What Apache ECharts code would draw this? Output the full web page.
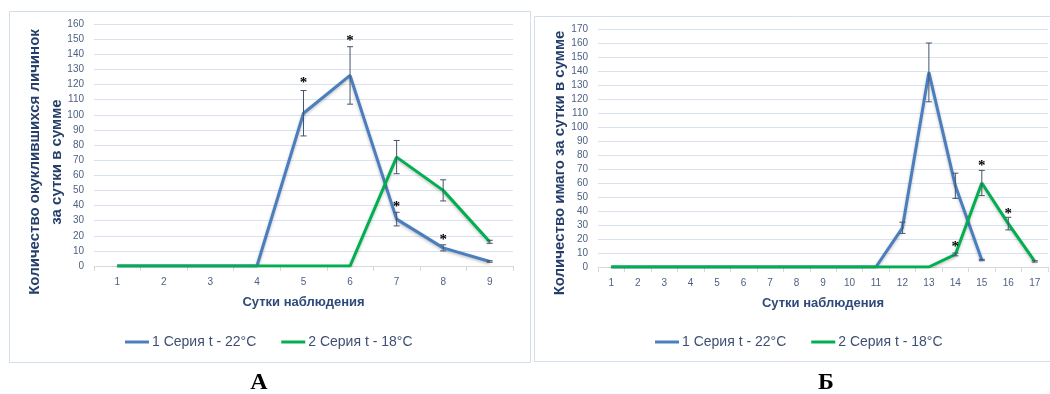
<!DOCTYPE html>
<html><head><meta charset="utf-8">
<script src="https://cdn.jsdelivr.net/npm/echarts@6/dist/echarts.min.js"></script>
<style>html,body{margin:0;padding:0;background:#fff}#c{width:1050px;height:394px}</style>
</head><body><div id="c"></div>
<script>
// ---- Data ----
const daysA = ['1','2','3','4','5','6','7','8','9'];
const seriesA1 = [0,0,0,0,101,126,31,12,3];
const seriesA2 = [0,0,0,0,0,0,72,50,16];
const errA1 = [null,null,null,null,15,19,4.5,2,0.5];
const errA2 = [null,null,null,null,null,null,11,7,1];
const starsADays = ['5','6','7','8'];
const starsAValues = [121,149,39,17];

const daysB = ['1','2','3','4','5','6','7','8','9','10','11','12','13','14','15','16','17'];
const seriesB1 = [0,0,0,0,0,0,0,0,0,0,0,28,139,58,5,null,null];
const seriesB2 = [0,0,0,0,0,0,0,0,0,0,0,0,0,9,60,31,4];
const errB1 = [null,null,null,null,null,null,null,null,null,null,null,4,21,9,0.5,null,null];
const errB2 = [null,null,null,null,null,null,null,null,null,null,null,null,null,1,9,4.5,0.5];
const starsBDays = ['14','15','16'];
const starsBValues = [14,72,38];

const yTicksA = {min:0, max:160, interval:10};
const yTicksB = {min:0, max:170, interval:10};

const name1 = '1 Серия t - 22°C';
const name2 = '2 Серия t - 18°C';
const yNameA = 'Количество окуклившихся личинок\nза сутки в сумме';
const yNameB = 'Количество имаго за сутки в сумме';
const xName = 'Сутки наблюдения';

// ---- Styles ----
const BLUE = '#4A7EBF', GREEN = '#00B050';
const LABEL = '#4E5F82', NAVY = '#253F6A', GRIDC = '#D9E1EE', AXC = '#D9D9D9';

function errData(vals, errs){
  const out = [];
  vals.forEach((v,i)=>{ if(errs[i]!=null && v!=null) out.push([i, v, errs[i]]); });
  return out;
}
function starData(days, cats, vals){
  return days.map((d,i)=>[cats.indexOf(d), vals[i]]);
}
function errRender(params, api){
  const x = api.value(0), v = api.value(1), e = api.value(2);
  const t = api.coord([x, v+e]), b = api.coord([x, v-e]);
  const w = 3, st = {stroke:'#44546A', lineWidth:1};
  return {type:'group', children:[
    {type:'line', shape:{x1:t[0],y1:t[1],x2:b[0],y2:b[1]}, style:st},
    {type:'line', shape:{x1:t[0]-w,y1:t[1],x2:t[0]+w,y2:t[1]}, style:st},
    {type:'line', shape:{x1:b[0]-w,y1:b[1],x2:b[0]+w,y2:b[1]}, style:st}
  ]};
}
function starRender(params, api){
  const p = api.coord([api.value(0), api.value(1)]);
  return {type:'text', x:p[0], y:p[1], style:{text:'*', font:'bold 15px "Liberation Serif"', fill:'#000', align:'center', verticalAlign:'middle'}};
}
function xAxis(idx, cats){
  return {type:'category', gridIndex:idx, data:cats, boundaryGap:true,
    name:xName, nameLocation:'middle', nameGap:30,
    nameTextStyle:{color:'#2E4A7A', fontWeight:'bold', fontSize:13, fontFamily:'Liberation Sans'},
    axisLine:{lineStyle:{color:AXC}}, axisTick:{show:true, length:5, lineStyle:{color:AXC}},
    axisLabel:{color:LABEL, fontSize:10, margin:11, fontFamily:'Liberation Sans'}, splitLine:{show:false}};
}
function yAxis(idx, t){
  return {type:'value', gridIndex:idx, min:t.min, max:t.max, interval:t.interval,
    axisLine:{show:false}, axisTick:{show:false},
    axisLabel:{color:LABEL, fontSize:10, margin:10, fontFamily:'Liberation Sans'},
    splitLine:{lineStyle:{color:GRIDC, width:1}}};
}
function lineSeries(name, data, color, xi){
  return {type:'line', name:name, data:data, xAxisIndex:xi, yAxisIndex:xi, symbol:'none', showSymbol:false,
    connectNulls:false, lineStyle:{color:color, width:3, shadowBlur:3, shadowColor:'rgba(0,0,0,0.25)', shadowOffsetY:1.5},
    itemStyle:{color:color}};
}
function yTitle(x, y, text){
  return {type:'text', x:x, y:y, rotation:Math.PI/2,
    style:{text:text, font:'bold 15px "Liberation Sans"', lineHeight:22, fill:NAVY, align:'center', verticalAlign:'middle'}};
}
const legendBase = {top:335, padding:0, data:[name1,name2], icon:'rect', itemWidth:24, itemHeight:3, itemGap:25,
  textStyle:{color:'#3E4F72', fontSize:14, fontFamily:'Liberation Sans', padding:[0,0,0,-2]}, selectedMode:false};

const chart = echarts.init(document.getElementById('c'), null, {renderer:'canvas'});
chart.setOption({
  animation:false,
  backgroundColor:'#fff',
  grid:[
    {left:94, right:537, top:24, bottom:128},
    {left:598, right:2, top:29, bottom:127}
  ],
  xAxis:[xAxis(0, daysA), xAxis(1, daysB)],
  yAxis:[yAxis(0, yTicksA), yAxis(1, yTicksB)],
  legend:[
    Object.assign({left:125}, legendBase),
    Object.assign({left:655}, legendBase)
  ],
  graphic:[
    {type:'rect', shape:{x:9.5, y:11.5, width:521, height:351}, style:{fill:'none', stroke:'#D3DEEC', lineWidth:1}, z:-1},
    {type:'rect', shape:{x:534.5, y:16.5, width:530, height:345}, style:{fill:'none', stroke:'#D3DEEC', lineWidth:1}, z:-1},
    yTitle(46, 162, yNameA),
    yTitle(560, 163, yNameB),
    {type:'text', x:259, y:383, style:{text:'А', font:'bold 24px "Liberation Serif"', fill:'#000', align:'center', verticalAlign:'middle'}},
    {type:'text', x:826, y:383, style:{text:'Б', font:'bold 24px "Liberation Serif"', fill:'#000', align:'center', verticalAlign:'middle'}}
  ],
  series:[
    lineSeries(name1, seriesA1, BLUE, 0),
    lineSeries(name2, seriesA2, GREEN, 0),
    {type:'custom', xAxisIndex:0, yAxisIndex:0, renderItem:errRender, data:errData(seriesA1, errA1), z:5},
    {type:'custom', xAxisIndex:0, yAxisIndex:0, renderItem:errRender, data:errData(seriesA2, errA2), z:5},
    {type:'custom', xAxisIndex:0, yAxisIndex:0, renderItem:starRender, data:starData(starsADays, daysA, starsAValues), z:6},
    lineSeries(name1, seriesB1, BLUE, 1),
    lineSeries(name2, seriesB2, GREEN, 1),
    {type:'custom', xAxisIndex:1, yAxisIndex:1, renderItem:errRender, data:errData(seriesB1, errB1), z:5},
    {type:'custom', xAxisIndex:1, yAxisIndex:1, renderItem:errRender, data:errData(seriesB2, errB2), z:5},
    {type:'custom', xAxisIndex:1, yAxisIndex:1, renderItem:starRender, data:starData(starsBDays, daysB, starsBValues), z:6}
  ]
});
</script></body></html>
